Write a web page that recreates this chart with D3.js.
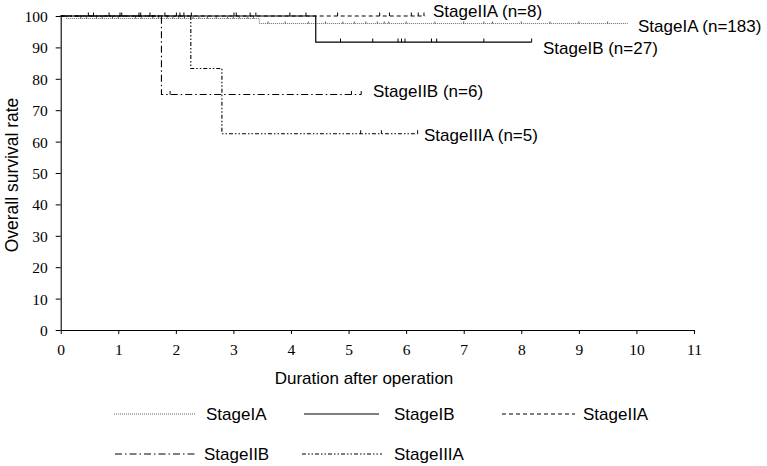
<!DOCTYPE html>
<html><head><meta charset="utf-8">
<script src="https://cdn.jsdelivr.net/npm/d3@7"></script>
<style>body{margin:0;background:#fff}</style>
</head><body>
<svg id="c" width="767" height="466"></svg>
<script>
// ---- data ----
const xTicks = [0,1,2,3,4,5,6,7,8,9,10,11];
const yTicks = [0,10,20,30,40,50,60,70,80,90,100];

// Kaplan-Meier step curves: [time, survival %]
const stageIA   = [[0,100],[0.1,99.2],[3.45,97.6],[9.85,97.6]];
const stageIB   = [[0,100],[4.43,91.7],[8.18,91.7]];
const stageIIA  = [[0,100],[6.33,100]];
const stageIIB  = [[0,100],[1.75,75],[5.22,75]];
const stageIIIA = [[0,100],[2.26,83.3],[2.8,62.5],[6.2,62.5]];

// censor marks (time)
const censIA   = [0.35,0.45,0.62,0.72,0.9,1.0,1.3,1.4,1.6,1.7,1.85,1.95,2.05,2.15,2.3,2.4,2.55,2.7,2.9,3.0,3.1,3.25,3.35,3.6,3.9,4.3,4.6,4.9,5.1,5.3,5.5,5.62,5.7,6.0,6.5,7.0,7.35,7.5,8.0,8.5,9.0,9.5];
const censIB   = [0.48,0.57,0.84,1.03,1.06,1.36,1.39,1.55,1.81,2.01,2.07,2.14,2.27,3.01,3.05,3.29,3.39,3.98,4.26,4.86,5.42,5.86,5.92,5.98,6.44,6.53,7.35,8.18];
const censIIA  = [4.81,5.54,5.71,6.09,6.21,6.31];
const censIIB  = [1.9,5.05,5.22];
const censIIIA = [5.21,5.57,6.2];

const labels = ["StageIA (n=183)","StageIB (n=27)","StageIIA (n=8)","StageIIB (n=6)","StageIIIA (n=5)"];
const legendNames = ["StageIA","StageIB","StageIIA","StageIIB","StageIIIA"];
const xTitle = "Duration after operation";
const yTitle = "Overall survival rate";

// ---- drawing ----
const svg = d3.select("#c");
const x = d3.scaleLinear().domain([0,11]).range([60.7,694]);
const y = d3.scaleLinear().domain([0,100]).range([330,16]);

const styles = [
  {dash:"1,1", stroke:"#555", w:0.9},
  {dash:null, stroke:"#000", w:1.2},
  {dash:"4,3", stroke:"#000", w:1.1},
  {dash:"7,3,1.5,3", stroke:"#000", w:1.1},
  {dash:"4,2,1.5,2,1.5,2", stroke:"#000", w:1.1}
];
const curves = [stageIA, stageIB, stageIIA, stageIIB, stageIIIA];
const cens = [censIA, censIB, censIIA, censIIB, censIIIA];

const serif = "'Liberation Serif','Times New Roman',serif";
const sans = "'Liberation Sans',Arial,sans-serif";
const xa = svg.append("g").attr("transform",`translate(0,${y(0)})`)
  .call(d3.axisBottom(x).tickValues(xTicks).tickSize(4).tickPadding(10).tickSizeOuter(0));
const ya = svg.append("g").attr("transform",`translate(${x(0)},0)`)
  .call(d3.axisLeft(y).tickValues(yTicks).tickSize(5).tickPadding(8).tickSizeOuter(0));
[xa,ya].forEach(a=>{
  a.select(".domain").attr("stroke","#000").attr("stroke-width",1.1);
  a.selectAll(".tick line").attr("stroke","#000").attr("stroke-width",1);
  a.selectAll(".tick text").attr("font-family",serif).attr("font-size",15.5).attr("fill","#000");
});
ya.selectAll(".tick text").attr("dy","0.35em");

const line = d3.line().x(d=>x(d[0])).y(d=>y(d[1])).curve(d3.curveStepAfter);
const stepVal = (c,t)=>{let v=c[0][1]; for(const p of c){ if(p[0]<=t) v=p[1]; } return v;};

curves.forEach((c,i)=>{
  const s = styles[i];
  svg.append("path").attr("d",line(c)).attr("fill","none")
    .attr("stroke",s.stroke).attr("stroke-width",s.w)
    .attr("stroke-dasharray",s.dash);
  const h = i===0 ? 2 : 3.5;
  svg.append("g").selectAll("line").data(cens[i]).join("line")
    .attr("x1",t=>x(t)).attr("x2",t=>x(t))
    .attr("y1",t=>y(stepVal(c,t))).attr("y2",t=>y(stepVal(c,t))-h)
    .attr("stroke",s.stroke).attr("stroke-width",1);
});

// curve labels
const labPos = [[638,32],[543,54],[433,17],[373,97],[424,141]];
labels.forEach((t,i)=>{
  svg.append("text").attr("x",labPos[i][0]).attr("y",labPos[i][1])
    .attr("font-family",sans).attr("font-size",17).attr("fill","#000").text(t);
});

// axis titles
svg.append("text").attr("x",364).attr("y",384).attr("text-anchor","middle")
  .attr("font-family",sans).attr("font-size",17).text(xTitle);
svg.append("text").attr("transform","translate(18,175) rotate(-90)").attr("text-anchor","middle")
  .attr("font-family",sans).attr("font-size",17.5).text(yTitle);

// legend: [lineStart, lineEnd, labelX, y]
const legPos = [[114,195,206,414],[304,379,394,414],[502,575,583,414],[115,195,204,454],[302,382,394,454]];
legendNames.forEach((n,i)=>{
  const [x1,x2,tx,ly] = legPos[i], s = styles[i];
  svg.append("line").attr("x1",x1).attr("x2",x2).attr("y1",ly).attr("y2",ly)
    .attr("stroke",s.stroke).attr("stroke-width",s.w).attr("stroke-dasharray",s.dash);
  svg.append("text").attr("x",tx).attr("y",ly+6).attr("font-family",sans)
    .attr("font-size",17).text(n);
});
</script>
</body></html>
